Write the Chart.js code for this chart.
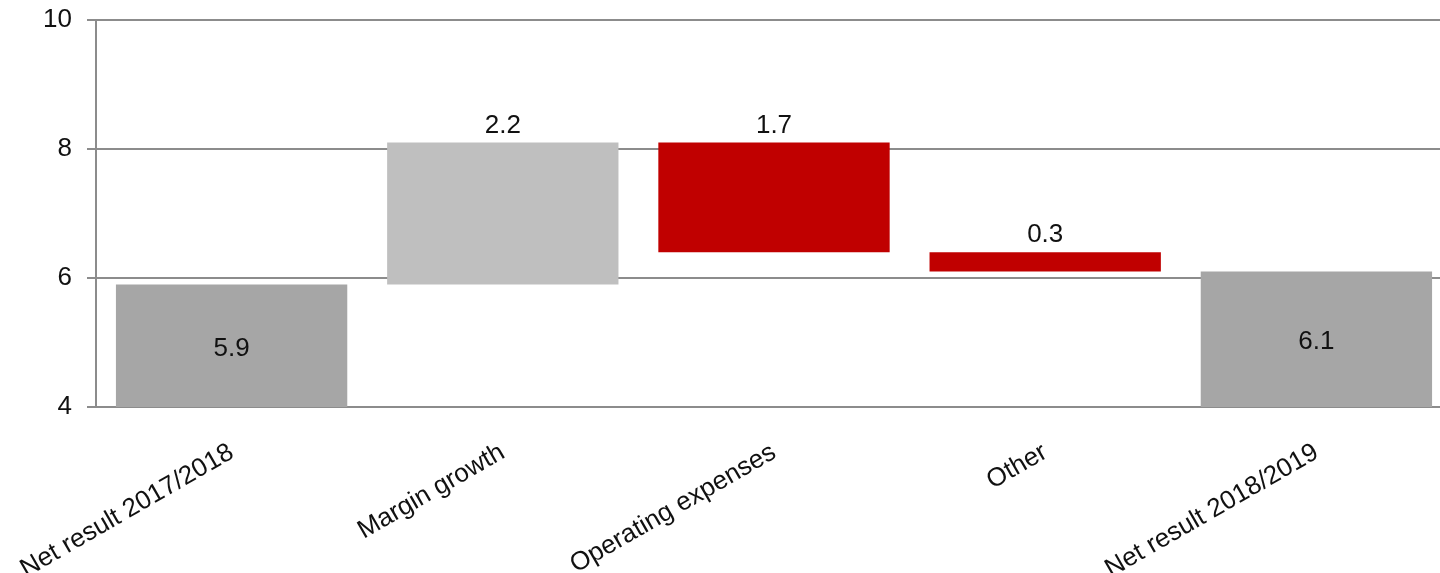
<!DOCTYPE html>
<html>
<head>
<meta charset="utf-8">
<script src="https://cdn.jsdelivr.net/npm/chart.js@4"></script>
<style>
  html, body { margin: 0; padding: 0; background: #ffffff; overflow: hidden; }
  #wrap { width: 1440px; height: 573px; position: relative; overflow: hidden; }
  #c { position: absolute; left: 0; top: 0; }
</style>
</head>
<body>
<div id="wrap"><canvas id="c" width="1454" height="573"></canvas></div>
<script>
const categories = ["Net result 2017/2018", "Margin growth", "Operating expenses", "Other", "Net result 2018/2019"];
const barLow = [0, 5.9, 6.4, 6.1, 0];
const barHigh = [5.9, 8.1, 8.1, 6.4, 6.1];
const labelValues = ["5.9", "2.2", "1.7", "0.3", "6.1"];
const barColors = ["#a6a6a6", "#bfbfbf", "#c00000", "#c00000", "#a6a6a6"];
const labelInside = [true, false, false, false, true];
const yTicks = [4, 6, 8, 10];

const FONT = "'Liberation Sans', Arial, sans-serif";

const labelPlugin = {
  id: 'wfLabels',
  afterDatasetsDraw(chart) {
    const ctx = chart.ctx;
    const meta = chart.getDatasetMeta(0);
    const area = chart.chartArea;
    ctx.save();
    ctx.font = "26px " + FONT;
    ctx.fillStyle = "#111111";
    ctx.textAlign = "center";
    meta.data.forEach((bar, i) => {
      const top = Math.min(bar.y, bar.base);
      const bottom = Math.min(Math.max(bar.y, bar.base), area.bottom);
      if (labelInside[i]) {
        ctx.textBaseline = "middle";
        ctx.fillText(labelValues[i], bar.x, (top + bottom) / 2 + 3);
      } else {
        ctx.textBaseline = "alphabetic";
        ctx.fillText(labelValues[i], bar.x, top - 10);
      }
    });
    ctx.restore();
  }
};

new Chart(document.getElementById('c'), {
  type: 'bar',
  data: {
    labels: categories,
    datasets: [{
      data: categories.map((c, i) => [barLow[i], barHigh[i]]),
      backgroundColor: barColors,
      borderWidth: 0,
      categoryPercentage: 1.0,
      barPercentage: 0.853
    }]
  },
  options: {
    responsive: false,
    animation: false,
    devicePixelRatio: 1,
    layout: { padding: { left: 0, right: 2, top: 20, bottom: 0 } },
    plugins: { legend: { display: false }, tooltip: { enabled: false } },
    scales: {
      x: {
        grid: { display: false, drawTicks: false },
        border: { display: false },
        afterFit(scale) { scale.height = 166; scale.paddingLeft = 0; scale.paddingRight = 0; },
        ticks: {
          font: { family: FONT, size: 26 },
          color: "#111111",
          minRotation: 30,
          maxRotation: 30,
          padding: 30
        }
      },
      y: {
        min: 4,
        max: 10,
        afterBuildTicks(scale) { scale.ticks = yTicks.map(v => ({ value: v })); },
        afterFit(scale) { scale.width = 96; scale.paddingTop = 0; scale.paddingBottom = 0; },
        grid: { color: "#8c8c8c", lineWidth: 2, tickLength: 9 },
        border: { display: true, color: "#8c8c8c", width: 2 },
        ticks: {
          font: { family: FONT, size: 26 },
          color: "#111111",
          padding: 15
        }
      }
    }
  },
  plugins: [labelPlugin]
});
</script>
</body>
</html>
